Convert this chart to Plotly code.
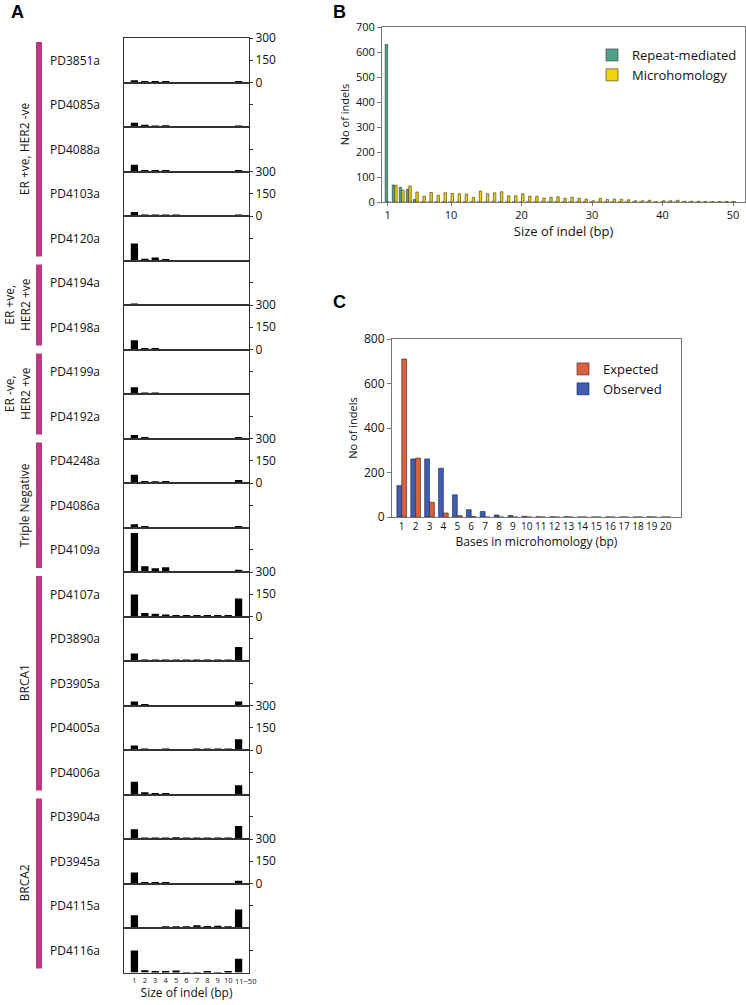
import plotly.graph_objects as go

W, H = 746, 1005
FONT = "Open Sans"

# ---------------- Panel A data ----------------
size_labels = ["1", "2", "3", "4", "5", "6", "7", "8", "9", "10", "11\u221250"]
samples = ["PD3851a", "PD4085a", "PD4088a", "PD4103a", "PD4120a",
           "PD4194a", "PD4198a", "PD4199a", "PD4192a",
           "PD4248a", "PD4086a", "PD4109a",
           "PD4107a", "PD3890a", "PD3905a", "PD4005a", "PD4006a",
           "PD3904a", "PD3945a", "PD4115a", "PD4116a"]
sample_counts = [
    [15, 5, 5, 4, 0, 0, 0, 0, 0, 0, 4],
    [29, 15, 6, 11, 0, 0, 0, 0, 0, 0, 4],
    [45, 6, 6, 4, 0, 0, 0, 0, 0, 0, 6],
    [27, 10, 5, 5, 4, 0, 0, 0, 3, 3, 6],
    [115, 11, 20, 8, 3, 0, 0, 0, 0, 0, 3],
    [6, 2, 2, 1, 1, 1, 1, 1, 1, 1, 2],
    [63, 9, 6, 3, 0, 0, 0, 0, 0, 0, 3],
    [45, 5, 10, 3, 1, 0, 0, 0, 0, 0, 3],
    [24, 10, 3, 3, 0, 0, 2, 2, 2, 2, 10],
    [56, 13, 11, 13, 0, 0, 0, 0, 0, 0, 20],
    [22, 4, 3, 3, 0, 0, 2, 2, 2, 2, 10],
    [263, 38, 25, 32, 3, 0, 0, 0, 0, 0, 16],
    [149, 23, 18, 13, 4, 4, 6, 4, 6, 6, 122],
    [50, 6, 6, 6, 5, 5, 8, 5, 6, 6, 95],
    [27, 4, 2, 2, 2, 1, 1, 1, 1, 1, 27],
    [31, 4, 2, 6, 2, 0, 4, 4, 4, 4, 72],
    [86, 16, 9, 7, 3, 0, 0, 0, 0, 0, 63],
    [65, 8, 9, 6, 11, 7, 10, 7, 7, 8, 88],
    [74, 6, 4, 4, 3, 0, 0, 0, 0, 0, 18],
    [86, 0, 0, 11, 11, 11, 18, 13, 15, 11, 124],
    [149, 15, 6, 10, 13, 3, 3, 5, 2, 6, 92],
]
group_names = ["ER +ve, HER2 -ve", "ER +ve,<br>HER2 +ve", "ER -ve,<br>HER2 +ve",
               "Triple Negative", "BRCA1", "BRCA2"]
group_first = [0, 5, 7, 9, 12, 17]
group_last = [4, 6, 8, 11, 16, 20]
a_ticks = [0, 150, 300]
a_ticktext = ["0", "150", "300"]

# ---------------- Panel B data ----------------
indel_size = list(range(1, 51))
repeat_mediated = [630, 68, 59, 51, 10] + [0] * 45
microhomology = [0, 67, 47, 64, 40, 23, 38, 27, 37, 34, 33, 32, 18, 44, 33, 37, 41, 25, 25, 33,
                 23, 23, 16, 19, 21, 15, 19, 15, 12, 5, 15, 10, 12, 11, 9, 5, 5, 7, 1, 5,
                 5, 7, 3, 3, 3, 2, 2, 2, 2, 2]

# ---------------- Panel C data ----------------
mh_bases = list(range(1, 21))
observed = [141, 261, 261, 219, 100, 33, 25, 9, 7, 3, 1, 1, 1, 0, 0, 0, 0, 0, 1, 0]
expected = [710, 265, 66, 18, 6, 2, 0, 0, 0, 0, 0, 0, 0, 0, 0, 0, 0, 0, 0, 0]


def xd(a, b):
    return [a / W, b / W]


def yd(top, bottom):
    return [1 - bottom / H, 1 - top / H]


fig = go.Figure()
layout = dict(width=W, height=H, margin=dict(l=0, r=0, t=0, b=0, autoexpand=False),
              paper_bgcolor="white", plot_bgcolor="white",
              font=dict(family=FONT, color="#111"),
              barmode="group", bargap=0.3, bargroupgap=0.0,
              showlegend=True)
annotations = []
shapes = []

A_TOP, A_H = 38.0, 44.5
A_X0, A_X1 = 124, 249
n = len(samples)
for k in range(n):
    sfx = "" if k == 0 else str(k + 1)
    top = A_TOP + A_H * k
    fig.add_trace(go.Bar(x=size_labels, y=sample_counts[k], marker=dict(color="black", line=dict(width=0)),
                         xaxis="x" + sfx, yaxis="y" + sfx, showlegend=False, hoverinfo="x+y"))
    last = (k == n - 1)
    labelled = (k % 3 == 0)
    layout["xaxis" + sfx] = dict(domain=xd(A_X0, A_X1), anchor="y" + sfx, type="category",
                                 range=[-1, 11], showgrid=False, zeroline=False, automargin=False,
                                 showline=True, mirror=True, linecolor="#333", linewidth=1,
                                 ticks="", showticklabels=last, tickangle=0,
                                 tickvals=size_labels[:-1], ticktext=size_labels[:-1],
                                 tickfont=dict(size=7.5, color="#111"),
                                 title=dict(text="Size of indel (bp)" if last else "",
                                            font=dict(size=12), standoff=1))
    layout["yaxis" + sfx] = dict(domain=yd(top, top + A_H), anchor="x" + sfx, side="right",
                                 range=[0, 300], showgrid=False, zeroline=False, automargin=False,
                                 showline=True, mirror=True, linecolor="#333", linewidth=1,
                                 ticks="outside", ticklen=3, tickcolor="#333",
                                 tickvals=a_ticks if labelled else [150],
                                 ticktext=a_ticktext if labelled else [""],
                                 tickfont=dict(size=12, color="#111"))
    annotations.append(dict(x=48 / W, y=1 - (top + A_H / 2) / H, xref="paper", yref="paper",
                            text=samples[k], showarrow=False, xanchor="left", yanchor="middle",
                            font=dict(size=12, family=FONT)))
    if last:
        # last category label sits slightly right of its bar, as in the original
        annotations.append(dict(x=size_labels[-1], y=0, xref="x" + sfx, yref="y" + sfx,
                                text=size_labels[-1], showarrow=False, xanchor="center", yanchor="top",
                                xshift=7, yshift=-1, font=dict(size=7.5, family=FONT, color="#111")))

for name, f, l in zip(group_names, group_first, group_last):
    t = A_TOP + A_H * f + 4
    b = A_TOP + A_H * (l + 1) - 4
    shapes.append(dict(type="rect", xref="paper", yref="paper", x0=36 / W, x1=42 / W,
                       y0=1 - b / H, y1=1 - t / H, fillcolor="#B83A84", line=dict(width=0)))
    two = "<br>" in name
    annotations.append(dict(x=(17 if two else 24) / W, y=1 - (t + b) / 2 / H, xref="paper", yref="paper",
                            text=name, showarrow=False, textangle=-90, xanchor="center", yanchor="middle",
                            font=dict(size=12, family=FONT)))

# ---------------- Panel B ----------------
fig.add_trace(go.Bar(x=indel_size, y=repeat_mediated, name="Repeat-mediated",
                     marker=dict(color="#4FA189", line=dict(color="#2a3a33", width=0.6)),
                     xaxis="x22", yaxis="y22", legend="legend"))
fig.add_trace(go.Bar(x=indel_size, y=microhomology, name="Microhomology",
                     marker=dict(color="#F2D30F", line=dict(color="#3a3410", width=0.6)),
                     xaxis="x22", yaxis="y22", legend="legend"))
layout["xaxis22"] = dict(domain=xd(382, 745), anchor="y22", range=[0.2, 51.7],
                         tickvals=[1, 10, 20, 30, 40, 50], showgrid=False, zeroline=False, automargin=False,
                         showline=True, mirror=True, linecolor="#777", linewidth=1,
                         ticks="outside", ticklen=3, tickcolor="#777", tickangle=0,
                         tickfont=dict(size=11, color="#111"),
                         title=dict(text="Size of indel (bp)", font=dict(size=13), standoff=2))
layout["yaxis22"] = dict(domain=yd(27, 202), anchor="x22", range=[0, 700], dtick=100,
                         showgrid=False, zeroline=False, automargin=False,
                         showline=True, mirror=True, linecolor="#777", linewidth=1,
                         ticks="outside", ticklen=4, tickcolor="#777",
                         tickfont=dict(size=11, color="#111"),
                         title=dict(text="No of indels", font=dict(size=11), standoff=4))
layout["legend"] = dict(x=592 / W, y=1 - 40 / H, xanchor="left", yanchor="top",
                        bgcolor="rgba(0,0,0,0)", font=dict(size=13, family=FONT),
                        itemwidth=30, tracegroupgap=0)

# ---------------- Panel C ----------------
fig.add_trace(go.Bar(x=mh_bases, y=observed, name="Observed",
                     marker=dict(color="#3F5DB3", line=dict(color="#1d2440", width=0.6)),
                     xaxis="x23", yaxis="y23", legend="legend2"))
fig.add_trace(go.Bar(x=mh_bases, y=expected, name="Expected",
                     marker=dict(color="#D8623F", line=dict(color="#40201a", width=0.6)),
                     xaxis="x23", yaxis="y23", legend="legend2"))
layout["xaxis23"] = dict(domain=xd(392, 681), anchor="y23", range=[0.3, 21.1],
                         tickvals=mh_bases, showgrid=False, zeroline=False, automargin=False,
                         showline=True, mirror=True, linecolor="#777", linewidth=1,
                         ticks="", tickangle=0, tickfont=dict(size=10, color="#111"),
                         title=dict(text="Bases in microhomology (bp)", font=dict(size=12), standoff=4))
layout["yaxis23"] = dict(domain=yd(339, 517), anchor="x23", range=[0, 800], dtick=200,
                         showgrid=False, zeroline=False, automargin=False,
                         showline=True, mirror=True, linecolor="#777", linewidth=1,
                         ticks="outside", ticklen=4, tickcolor="#777",
                         tickfont=dict(size=12, color="#111"),
                         title=dict(text="No of indels", font=dict(size=11), standoff=4))
layout["legend2"] = dict(x=563 / W, y=1 - 354 / H, xanchor="left", yanchor="top",
                         bgcolor="rgba(0,0,0,0)", font=dict(size=13, family=FONT),
                         itemwidth=30, tracegroupgap=0, traceorder="reversed")

# panel letters
for letter, px, py in [("A", 17, 12), ("B", 339, 12), ("C", 339, 302)]:
    annotations.append(dict(x=px / W, y=1 - py / H, xref="paper", yref="paper", text="<b>%s</b>" % letter,
                            showarrow=False, xanchor="center", yanchor="middle",
                            font=dict(size=18, family="Liberation Sans", color="black")))

layout["annotations"] = annotations
layout["shapes"] = shapes
fig.update_layout(**layout)
fig.write_html("out.html", config={"displayModeBar": False},
               post_script="document.body.style.margin='0';document.body.style.overflow='hidden';")
